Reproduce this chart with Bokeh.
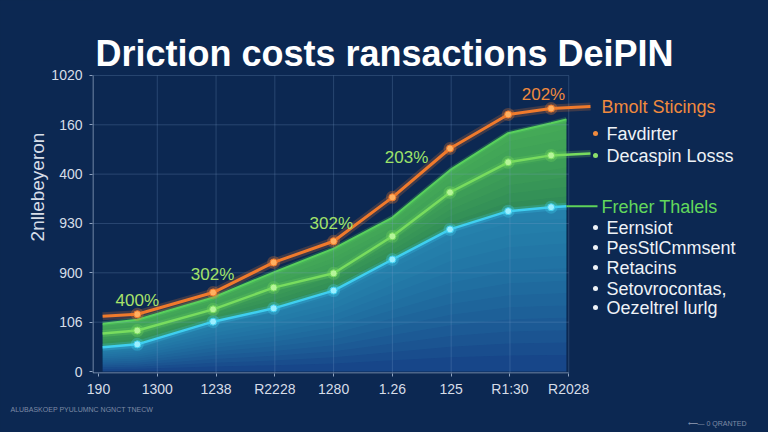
from bokeh.plotting import figure
from bokeh.models import FixedTicker, Range1d, ColumnDataSource, Title
from bokeh.embed import file_html
from bokeh.resources import INLINE
from bokeh.core.properties import value

# ---------------- data ----------------
title_text = "Driction costs ransactions DeiPIN"
y_axis_title = "2nllebeyeron"
x_tick_labels = ["190", "1300", "1238", "R2228", "1280", "1.26", "125", "R1:30", "R2028"]
y_tick_labels = ["0", "106", "900", "930", "400", "160", "1020"]

# marker positions (category index units)
point_x = [0.66, 1.95, 2.98, 4.0, 5.0, 5.98, 6.97, 7.7]
orange_vals = [1.16, 1.60, 2.21, 2.64, 3.53, 4.52, 5.21, 5.33]
green_vals = [0.83, 1.26, 1.70, 1.99, 2.74, 3.63, 4.24, 4.38]
cyan_vals = [0.55, 1.01, 1.28, 1.64, 2.27, 2.88, 3.25, 3.33]

# line starts / ends
line_start_x = 0.07
line_end_x = 8.37
orange_start, orange_end = 1.12, 5.37
green_start, green_end = 0.77, 4.42

# filled areas
area_x = [0.07, 0.66, 1.95, 2.98, 4.0, 5.0, 5.98, 6.97, 7.7, 7.96]
band_upper = [0.97, 1.05, 1.50, 2.01, 2.49, 3.12, 4.08, 4.83, 5.03, 5.11]
area_cyan = [0.49, 0.55, 1.01, 1.28, 1.64, 2.27, 2.88, 3.25, 3.33, 3.35]

# percentage annotations
pct_labels = ["400%", "302%", "302%", "203%", "202%"]
pct_x = [0.66, 1.94, 3.96, 5.24, 7.57]
pct_y = [1.44, 1.97, 3.00, 4.34, 5.62]
pct_colors = ["#a9e36a", "#a2e36a", "#a2e36a", "#9de36a", "#f08a3e"]

legend_head_1 = "Bmolt Sticings"
legend_items_1 = ["Favdirter", "Decaspin Losss"]
legend_head_2 = "Freher Thalels"
legend_items_2 = ["Eernsiot", "PesStlCmmsent", "Retacins", "Setovrocontas,", "Oezeltrel lurlg"]
footer_left = "ALUBASKOEP PYULUMNC NGNCT TNECW"
footer_right = "\u27f5\u2014 0  QRANTED"

# ---------------- layout helpers ----------------
W, H = 768, 432
FL, FR, FT, FB = 92, 768, 0, 373
PX_X, PX_Y = 58.78, 49.34          # pixels per unit
X0 = -(98 - FL) / PX_X
X1 = X0 + (FR - FL) / PX_X
Y0 = -(FB - 371) / PX_Y
Y1 = Y0 + (FB - FT) / PX_Y
X_AXIS_END = 8.0
Y_AXIS_END = 6.0


def dx(px):
    return X0 + (px - FL) / PX_X


def dy(py):
    return Y0 + (FB - py) / PX_Y


BG = "#0c2852"
ORANGE = "#f07a2c"
GREEN = "#78dc5e"
CYAN = "#3fcff0"
AXIS = "#8fa3c0"
FONT = "Liberation Sans"

p = figure(width=W, height=H, x_range=Range1d(X0, X1), y_range=Range1d(Y0, Y1),
           output_backend="svg", toolbar_location=None,
           min_border_left=FL, min_border_right=W - FR,
           min_border_top=FT, min_border_bottom=H - FB,
           background_fill_color=BG, border_fill_color=BG,
           outline_line_color=None)
p.styles = {"background-color": BG}

# axes
x_ticks = list(range(len(x_tick_labels)))
y_ticks = list(range(len(y_tick_labels)))
p.xaxis.ticker = FixedTicker(ticks=x_ticks)
p.xaxis.major_label_overrides = {i: t for i, t in enumerate(x_tick_labels)}
p.yaxis.ticker = FixedTicker(ticks=y_ticks)
p.yaxis.major_label_overrides = {i: t for i, t in enumerate(y_tick_labels)}
for ax in (p.xaxis, p.yaxis):
    ax.axis_line_color = None
    ax.major_tick_line_color = AXIS
    ax.minor_tick_line_color = None
    ax.major_tick_in = 0
    ax.major_tick_out = 3
    ax.major_label_text_color = "#d6dde8"
    ax.major_label_text_font = FONT
    ax.major_label_text_font_size = "14px"
p.xaxis.major_label_standoff = 4
p.yaxis.major_label_standoff = 7
p.yaxis.axis_label = y_axis_title
p.yaxis.axis_label_text_color = "#d6dde8"
p.yaxis.axis_label_text_font = FONT
p.yaxis.axis_label_text_font_size = "19px"
p.yaxis.axis_label_text_font_style = "normal"
p.yaxis.axis_label_standoff = 0

p.xgrid.visible = False
p.ygrid.visible = False

# blue area below cyan with gradient effect
p.varea(x=area_x, y1=[0] * len(area_x), y2=area_cyan, fill_color="#18488c", fill_alpha=0.95)
layers = 12
for k in range(1, layers + 1):
    f = k / layers
    p.varea(x=area_x, y1=[v * (1 - 0.9 * f) for v in area_cyan], y2=area_cyan,
            fill_color="#2fa8cc", fill_alpha=0.075)

# green band with lighter top
p.varea(x=area_x, y1=area_cyan, y2=band_upper, fill_color="#379a58", fill_alpha=0.88)
for k in range(1, 9):
    f = k / 9
    p.varea(x=area_x, y1=[c + (u - c) * f for c, u in zip(area_cyan, band_upper)], y2=band_upper,
            fill_color="#5cc95c", fill_alpha=0.09)
p.line(x=area_x, y=band_upper, line_color="#4fd05a", line_width=5, line_alpha=0.25)
p.line(x=area_x, y=band_upper, line_color="#58d05c", line_width=2)

# grid over the plotting region (visible through the fills)
p.segment(x0=x_ticks[1:], y0=[Y0] * (len(x_ticks) - 1), x1=x_ticks[1:], y1=[Y_AXIS_END] * (len(x_ticks) - 1),
          line_color="#7fa2cf", line_alpha=0.25, line_width=1)
p.segment(x0=[X0] * (len(y_ticks) - 1), y0=y_ticks[1:], x1=[X_AXIS_END] * (len(y_ticks) - 1), y1=y_ticks[1:],
          line_color="#7fa2cf", line_alpha=0.25, line_width=1)
# axis lines limited to the plotting region
p.segment(x0=[dx(92.5), dx(92.5)], y0=[dy(372.5), dy(372.5)], x1=[X_AXIS_END, dx(92.5)],
          y1=[dy(372.5), Y_AXIS_END], line_color=AXIS, line_width=1)

# cyan line
cx = [line_start_x] + point_x + [area_x[-1]]
cy = [area_cyan[0]] + cyan_vals + [area_cyan[-1]]
p.line(x=cx, y=cy, line_color=CYAN, line_width=7, line_alpha=0.22)
p.line(x=cx, y=cy, line_color=CYAN, line_width=2.5)
# connector to second legend heading
p.line(x=[area_x[-1], dx(597)], y=[area_cyan[-1], area_cyan[-1]], line_color="#5ed25a", line_width=2)

# green line
gx = [line_start_x] + point_x + [line_end_x]
gy = [green_start] + green_vals + [green_end]
p.line(x=gx, y=gy, line_color=GREEN, line_width=7, line_alpha=0.22)
p.line(x=gx, y=gy, line_color=GREEN, line_width=2.5)

# orange line
ox = [line_start_x] + point_x + [line_end_x]
oy = [orange_start] + orange_vals + [orange_end]
p.line(x=ox, y=oy, line_color=ORANGE, line_width=8, line_alpha=0.22)
p.line(x=ox, y=oy, line_color=ORANGE, line_width=3)

# markers
for vals, col, inner in ((cyan_vals, CYAN, "#9befff"), (green_vals, GREEN, "#b6f59a"),
                         (orange_vals, ORANGE, "#ffb060")):
    p.scatter(x=point_x, y=vals, size=13, fill_color=col, fill_alpha=0.3, line_color=None)
    p.scatter(x=point_x, y=vals, size=7, fill_color=inner, line_color=col, line_width=1)

# percentage labels
src = ColumnDataSource(dict(x=pct_x, y=pct_y, t=pct_labels, c=pct_colors))
p.text(x="x", y="y", text="t", text_color="c", source=src, text_align="center",
       text_baseline="middle", text_font=value(FONT), text_font_size="17px")

# title
p.text(x=[dx(384)], y=[dy(53)], text=[title_text], text_align="center",
       text_baseline="alphabetic", text_color="#ffffff", text_font=value(FONT),
       text_font_size="36px", text_font_style="bold")

# legend block
LEG_FS = "18px"
p.text(x=[dx(601)], y=[dy(106)], text=[legend_head_1], text_color="#f08a3e",
       text_font=value(FONT), text_font_size=LEG_FS, text_baseline="middle")
bullet_cols = ["#f08a3e", "#8de06a"]
ys1 = [133, 155]
p.scatter(x=[dx(595)] * 2, y=[dy(v) for v in ys1], size=5, fill_color=bullet_cols, line_color=None)
p.text(x=[dx(606)] * 2, y=[dy(v) for v in ys1], text=legend_items_1, text_color="#eef2f7",
       text_font=value(FONT), text_font_size=LEG_FS, text_baseline="middle")
p.text(x=[dx(601)], y=[dy(206)], text=[legend_head_2], text_color="#62d85c",
       text_font=value(FONT), text_font_size=LEG_FS, text_baseline="middle")
ys2 = [227, 247, 267, 288, 307]
p.scatter(x=[dx(595)] * 5, y=[dy(v) for v in ys2], size=5, fill_color="#eef2f7", line_color=None)
p.text(x=[dx(606)] * 5, y=[dy(v) for v in ys2], text=legend_items_2, text_color="#eef2f7",
       text_font=value(FONT), text_font_size=LEG_FS, text_baseline="middle")

# footer rows below the axis
p.add_layout(Title(text=footer_left, align="left", text_color="#7d8aa5", text_font=FONT,
                   text_font_size="7px", text_font_style="normal", standoff=9, offset=10 - FL), "below")
p.add_layout(Title(text=footer_right, align="right", text_color="#7d8aa5", text_font=FONT,
                   text_font_size="7px", text_font_style="normal", standoff=0, offset=20), "below")

open("out.html", "w").write(file_html(p, INLINE))
